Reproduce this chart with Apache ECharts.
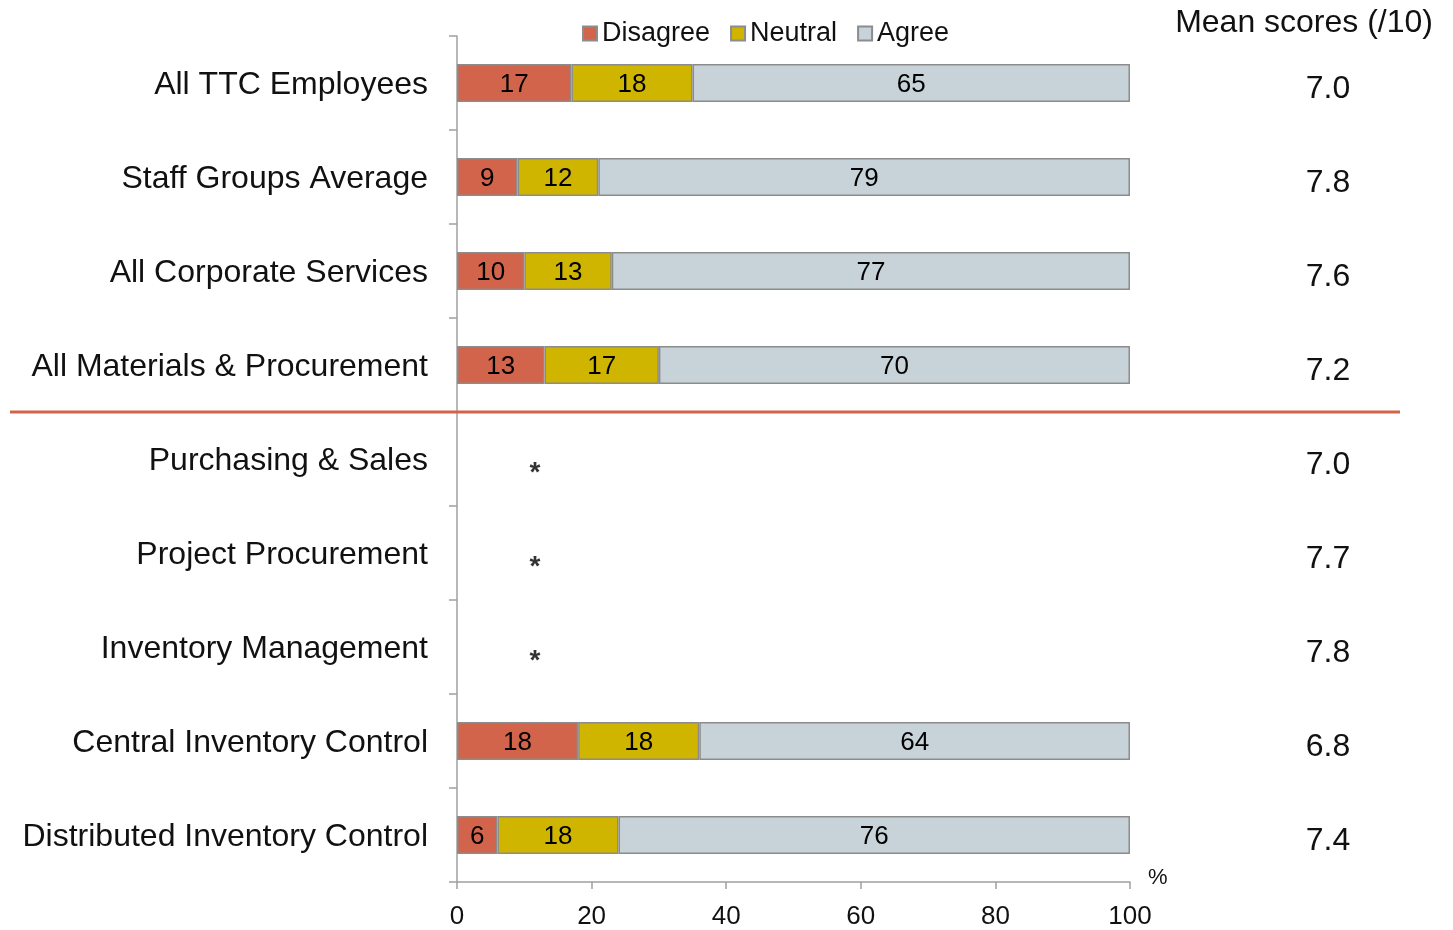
<!DOCTYPE html>
<html><head><meta charset="utf-8">
<script src="https://cdn.jsdelivr.net/npm/echarts@6/dist/echarts.min.js"></script>
<style>html,body{margin:0;padding:0;background:#fff}#c{width:1453px;height:930px}</style>
</head><body><div id="c"></div>
<script>
const categories = ['All TTC Employees','Staff Groups Average','All Corporate Services','All Materials & Procurement','Purchasing & Sales','Project Procurement','Inventory Management','Central Inventory Control','Distributed Inventory Control'];
const disagree = [17, 9, 10, 13, null, null, null, 18, 6];
const neutral  = [18, 12, 13, 17, null, null, null, 18, 18];
const agree    = [65, 79, 77, 70, null, null, null, 64, 76];
const suppressed = [null, null, null, null, 11.6, 11.6, 11.6, null, null];
const meanScores = ['7.0','7.8','7.6','7.2','7.0','7.7','7.8','6.8','7.4'];
const xTicks = [0, 20, 40, 60, 80, 100];

const FONT = '"Liberation Sans", Arial, sans-serif';
const chart = echarts.init(document.getElementById('c'), null, {renderer: 'canvas'});
const barLabel = {show: true, position: 'inside', color: '#000', fontSize: 26, fontFamily: FONT, offset: [0, 2]};
const border = {borderColor: '#8c8c8c', borderWidth: 1.5};

chart.setOption({
  animation: false,
  textStyle: {fontFamily: FONT},
  title: {text: 'Mean scores (/10)', right: 15, top: 2,
    textStyle: {fontSize: 32, fontWeight: 'normal', color: '#111', fontFamily: FONT}},
  legend: {
    top: 15, left: 577, itemWidth: 14, itemHeight: 14, itemGap: 20,
    icon: 'rect',
    textStyle: {fontSize: 27, color: '#111', fontFamily: FONT},
    data: ['Disagree', 'Neutral', 'Agree']
  },
  grid: {left: 457, right: 323, top: 36, bottom: 47, containLabel: false},
  xAxis: {
    type: 'value', min: 0, max: 100, interval: 20,
    axisLine: {show: true, lineStyle: {color: '#a0a0a0', width: 1.5}},
    axisTick: {show: true, length: 7, lineStyle: {color: '#a0a0a0', width: 1.5}},
    splitLine: {show: false},
    axisLabel: {fontSize: 26, color: '#111', margin: 22, fontFamily: FONT,
      formatter: v => xTicks.includes(v) ? String(v) : ''},
    name: '{p|%}', nameLocation: 'end', nameGap: 18,
    nameTextStyle: {fontSize: 22, color: '#111', verticalAlign: 'middle',
      rich: {p: {fontSize: 22, color: '#111', fontFamily: FONT, padding: [0, 0, 8, 0]}}}
  },
  yAxis: [{
    type: 'category', data: categories, inverse: true,
    axisLine: {show: true, lineStyle: {color: '#a0a0a0', width: 1.5}},
    axisTick: {show: true, length: 8, lineStyle: {color: '#a0a0a0', width: 1.5}},
    axisLabel: {fontSize: 32, color: '#111', margin: 29, fontFamily: FONT,
      formatter: v => '{a|' + v + '}',
      rich: {a: {fontSize: 32, color: '#111', fontFamily: FONT, padding: [4, 0, 0, 0]}}}
  }, {
    type: 'category', data: meanScores, inverse: true, position: 'right',
    axisLine: {show: false}, axisTick: {show: false},
    axisLabel: {fontSize: 32, color: '#111', margin: 198, align: 'center', fontFamily: FONT,
      formatter: v => '{a|' + v + '}',
      rich: {a: {fontSize: 32, color: '#111', fontFamily: FONT, padding: [12, 0, 0, 0]}}}
  }],
  series: [
    {name: 'Disagree', type: 'bar', stack: 's', data: disagree, barWidth: 38,
     itemStyle: Object.assign({color: '#D2644B'}, border), label: barLabel},
    {name: 'Neutral', type: 'bar', stack: 's', data: neutral, barWidth: 38,
     itemStyle: Object.assign({color: '#CFB500'}, border), label: barLabel},
    {name: 'Agree', type: 'bar', stack: 's', data: agree, barWidth: 38,
     itemStyle: Object.assign({color: '#C8D2D9'}, border), label: barLabel},
    {name: 'n/a', type: 'scatter', data: suppressed, symbolSize: 0, silent: true,
     label: {show: true, formatter: '*', position: 'inside', color: '#000', fontSize: 28,
       fontWeight: 'bold', offset: [0, 14], fontFamily: FONT}}
  ]
});

// separator line between the overall groups and the sub-units
const yTop = chart.convertToPixel({yAxisIndex: 0}, 3);
const yNext = chart.convertToPixel({yAxisIndex: 0}, 4);
const ySep = (yTop + yNext) / 2;
chart.setOption({
  graphic: [{type: 'line', shape: {x1: 10, y1: ySep, x2: 1400, y2: ySep},
    style: {stroke: '#D2644B', lineWidth: 3}, z: 10}]
});
</script></body></html>
